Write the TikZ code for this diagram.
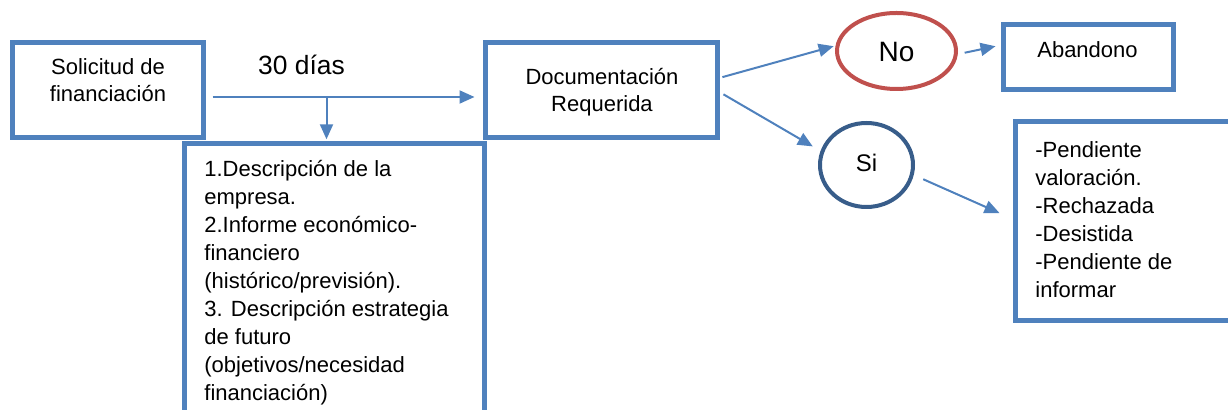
\documentclass[tikz,border=0pt]{standalone}
\usepackage{fontspec}
\setmainfont{Liberation Sans}
\usetikzlibrary{arrows.meta,shapes.geometric}
\definecolor{azul}{HTML}{4F81BD}
\definecolor{rojo}{HTML}{C0504D}
\definecolor{azuloscuro}{HTML}{385D8A}
\tikzset{
  caja/.style={draw=azul,line width=2.5pt,inner sep=0pt},
  elipse/.style={ellipse,line width=2pt,inner sep=0pt},
  flecha/.style={draw=azul,line width=1pt,-{Triangle[length=7.5pt,width=6.5pt]}},
  texto/.style={inner sep=0pt,align=center,anchor=base,font=\fontsize{11}{13.75}\selectfont},
  lista/.style={inner sep=0pt,align=left,anchor=base west,font=\fontsize{11}{14}\selectfont}
}
\begin{document}
\begin{tikzpicture}[x=0.5pt,y=-0.5pt]
  % the frame of the picture (pixel units, y down)
  \useasboundingbox (0,0) rectangle (1228,410);
  \clip (0,0) rectangle (1228,410);

  %% the boxes
  \node[caja,minimum width=95.5pt,minimum height=47.5pt] (sol) at (108,90.5) {};
  \node[caja,minimum width=116pt,minimum height=47.25pt] (doc) at (601.5,90.25) {};
  \node[caja,minimum width=150pt,minimum height=143pt] (req) at (334,287) {};
  \node[caja,minimum width=85pt,minimum height=32.5pt] (aband) at (1088,57.5) {};
  \node[caja,minimum width=112.5pt,minimum height=99.25pt] (estado) at (1127.5,221.25) {};
  \node[elipse,draw=rojo,minimum width=59.5pt,minimum height=38pt] (no) at (896.5,51) {};
  \node[elipse,draw=azuloscuro,minimum width=46.5pt,minimum height=42pt] (si) at (866.5,165) {};

  %% the texts (placed at the baseline of their last line)
  \node[texto] (soltxt) at (108,101.7) {Solicitud de\\financiación};
  \node[texto,font=\fontsize{13.2}{15}\selectfont] (dias) at (301.5,75) {30 días};
  \node[texto] (doctxt) at (602,111.7) {Documentación\\Requerida};
  \node[texto] (abandtxt) at (1087.5,57.3) {Abandono};
  \node[texto,font=\fontsize{14}{16}\selectfont] (notxt) at (896.5,61.7) {No};
  \node[texto,font=\fontsize{12}{14}\selectfont] (sitxt) at (866.5,171.7) {Si};
  \node[lista] (reqtxt) at (204,401) {1.Descripción de la\\empresa.\\2.Informe económico-\\financiero\\(histórico/previsión).\\3. Descripción estrategia\\de futuro\\(objetivos/necesidad\\financiación)};
  \node[lista] (estadotxt) at (1035,298) {-Pendiente\\valoración.\\-Rechazada\\-Desistida\\-Pendiente de\\informar};

  %% the arrows
  \coordinate (c1) at ([yshift=-3.25pt]sol.east);
  \coordinate (rama) at (326.5,97);
  \draw[flecha,shorten <=3.25pt,shorten >=4.25pt] (c1) -- (c1 -| doc.west);
  \draw[flecha,shorten >=1.1pt] (rama) -- (rama |- req.north);
  \draw[flecha,shorten <=1.25pt,shorten >=1pt] (doc.6) -- (no.175);
  \draw[flecha,shorten <=3.5pt,shorten >=2.55pt] (no.-3) -- (aband.172);
  \draw[flecha,shorten <=2pt,shorten >=4.5pt] (doc.-1) -- (si.163);
  \draw[flecha,shorten <=5.2pt,shorten >=7.1pt] (si.-12) -- ([yshift=1.2pt]estado.west);
\end{tikzpicture}
\end{document}
